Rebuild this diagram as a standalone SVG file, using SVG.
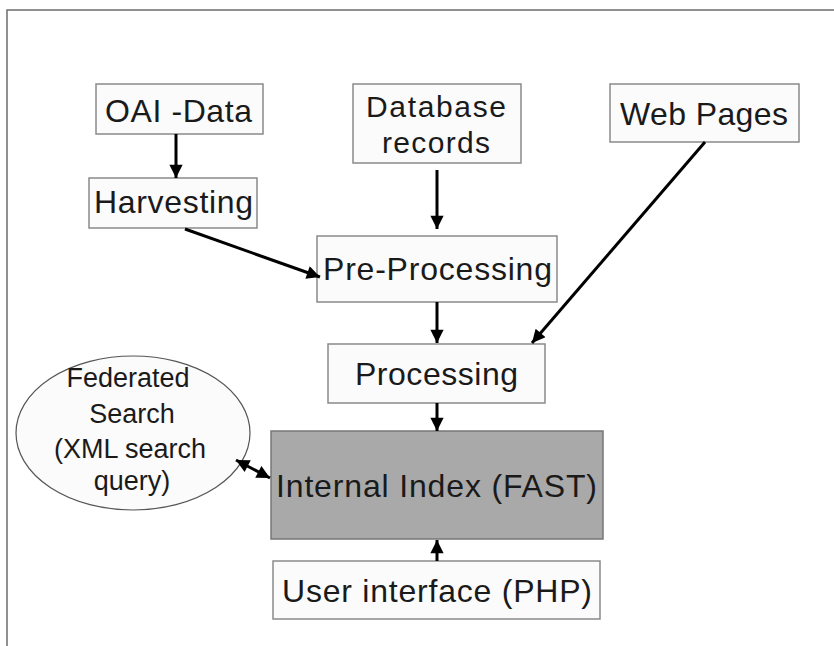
<svg xmlns="http://www.w3.org/2000/svg" width="834" height="646" viewBox="0 0 834 646">
<style>
.box{fill:#fbfbfb;stroke:#8a8a8a;stroke-width:1.5}
.lbl{font-family:"Liberation Sans",Arial,sans-serif;font-size:32px;fill:#1a1a1a}
.sm{font-family:"Liberation Sans",Arial,sans-serif;font-size:27px;fill:#1a1a1a;text-anchor:middle}
.con{stroke:#000;stroke-width:3;fill:none}
</style>
<defs>
<marker id="ah" viewBox="0 0 10 10" refX="10" refY="5" markerWidth="5" markerHeight="4.4" orient="auto" markerUnits="strokeWidth">
<path d="M0,0 L10,5 L0,10 z" fill="#000"/>
</marker>
<marker id="ahs" viewBox="0 0 10 10" refX="0" refY="5" markerWidth="5" markerHeight="4.4" orient="auto" markerUnits="strokeWidth">
<path d="M10,0 L0,5 L10,10 z" fill="#000"/>
</marker>
</defs>
<rect width="834" height="646" fill="#fff"/>
<g id="frame" stroke="#6e6e6e" stroke-width="1.5" fill="none">
<path d="M7,646 V10 H834"/>
</g>
<g id="oai"><rect class="box" x="96" y="84" width="167" height="50"/><text class="lbl" x="105" y="122" textLength="147">OAI -Data</text></g>
<g id="db"><rect class="box" x="353" y="84" width="168" height="79"/><text class="lbl" x="366" y="117" textLength="140" style="font-size:30px">Database</text><text class="lbl" x="382" y="153" textLength="108" style="font-size:30px">records</text></g>
<g id="web"><rect class="box" x="610" y="84" width="189" height="58"/><text class="lbl" x="620" y="125" textLength="168">Web Pages</text></g>
<g id="harv"><rect class="box" x="89" y="178" width="168" height="50"/><text class="lbl" x="94" y="213" textLength="159">Harvesting</text></g>
<g id="pre"><rect class="box" x="317" y="236" width="240" height="66"/><text class="lbl" x="323" y="280" textLength="229">Pre-Processing</text></g>
<g id="proc"><rect class="box" x="328" y="344" width="217" height="59"/><text class="lbl" x="355" y="385" textLength="163">Processing</text></g>
<g id="index"><rect x="271" y="431" width="332" height="108" fill="#a9a9a9" stroke="#777" stroke-width="1.5"/><text class="lbl" x="276" y="497" textLength="321">Internal Index (FAST)</text></g>
<g id="ui"><rect class="box" x="273" y="561" width="327" height="58"/><text class="lbl" x="282" y="602" textLength="310">User interface (PHP)</text></g>
<g id="fed"><ellipse cx="133" cy="433" rx="117" ry="77" fill="#fbfbfb" stroke="#555" stroke-width="1.2"/>
<text class="sm" x="128" y="387">Federated</text>
<text class="sm" x="132" y="423">Search</text>
<text class="sm" x="130" y="458">(XML search</text>
<text class="sm" x="132" y="490">query)</text></g>
<g id="connectors">
<line class="con" x1="176" y1="134" x2="176" y2="178" marker-end="url(#ah)"/>
<line class="con" x1="185" y1="229" x2="320" y2="277" marker-end="url(#ah)"/>
<line class="con" x1="437" y1="170" x2="437" y2="229" marker-end="url(#ah)"/>
<line class="con" x1="437" y1="302" x2="437" y2="343" marker-end="url(#ah)"/>
<line class="con" x1="705" y1="142" x2="532" y2="343" marker-end="url(#ah)"/>
<line class="con" x1="437" y1="403" x2="437" y2="431" marker-end="url(#ah)"/>
<line class="con" x1="437" y1="561" x2="437" y2="540" marker-end="url(#ah)"/>
<line class="con" x1="236" y1="460" x2="270" y2="478" marker-start="url(#ahs)" marker-end="url(#ah)"/>
</g>
</svg>
